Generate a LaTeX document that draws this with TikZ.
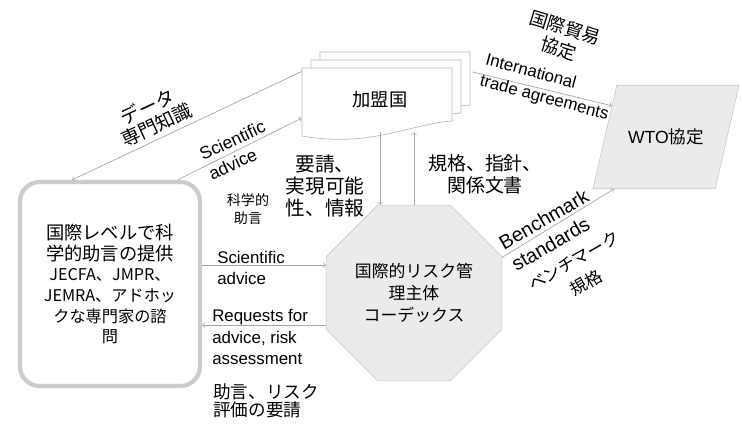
\documentclass[tikz,border=0pt]{standalone}
\usepackage{fontspec}
\setmainfont{Liberation Sans}
\newfontfamily\jp{Noto Sans CJK JP}
\usetikzlibrary{shapes.geometric}

\tikzset{
    flow/.style={->, gray!70, line width=0.5pt},
    docpage/.style={draw=gray!55, fill=white, line width=0.5pt},
    jplabel/.style={font=\jp\fontsize{13}{15.5}\selectfont, align=center, inner sep=0pt},
    enlabel/.style={font=\fontsize{12}{15.5}\selectfont, align=left, inner sep=0pt},
    expertbox/.style={draw=gray!40, line width=3pt, rounded corners=14pt, fill=white,
        minimum width=4.5cm, minimum height=5.1cm, inner sep=0pt, align=center,
        font=\jp\fontsize{11.5}{14.7}\selectfont},
    codexbox/.style={regular polygon, regular polygon sides=8, draw=gray!45, fill=gray!16,
        minimum size=4.75cm, inner sep=0pt, align=center, font=\jp\fontsize{12}{15.5}\selectfont},
    wtobox/.style={trapezium, trapezium left angle=77, trapezium right angle=103,
        draw=gray!45, fill=gray!16, inner xsep=8pt, inner ysep=31pt,
        font=\fontsize{12.5}{15}\selectfont},
}

\begin{document}
\begin{tikzpicture}[x=0.025cm, y=-0.025cm]
    \useasboundingbox (0,0) rectangle (742,428);

    % member states (stacked pages)
    \filldraw[docpage] (320,52) -- (470,52) -- (470,105) .. controls (428,108) and (388,132) .. (320,120) -- cycle;
    \filldraw[docpage] (311,60) -- (461,60) -- (461,113) .. controls (419,116) and (379,140) .. (311,128) -- cycle;
    \filldraw[docpage] (302,68) -- (452,68) -- (452,121) .. controls (410,124) and (370,148) .. (302,136) -- cycle;
    \node[jplabel, minimum width=3.9cm, minimum height=1.6cm] (member) at (380,100) {加盟国};

    % expert bodies, codex, WTO
    \node[expertbox] (expert) at (110,284) {{\fontsize{13}{14.7}\selectfont 国際レベルで科}\\{\fontsize{13}{14.7}\selectfont 学的助言の提供}\\JECFA、JMPR、\\JEMRA、アドホッ\\クな専門家の諮\\問};
    \node[codexbox] (codex) at (414,293) {国際的リスク管\\理主体\\コーデックス};
    \node[wtobox] (wto) at (666,137) {WTO{\jp 協定}};

    % connectors
    \coordinate (sciline) at (0,265);
    \coordinate (reqline) at (0,325);
    \draw[flow] (member.160) -- (expert.110);
    \draw[flow] (expert.57) -- (member.193);
    \draw[flow] (expert.east |- sciline) -- (codex.west |- sciline);
    \draw[flow] (codex.west |- reqline) -- (expert.east |- reqline);
    \draw[flow] (member.south) -- (member.south |- codex.north);
    \draw[flow] (codex.north) -- (codex.north |- member.south);
    \draw[flow] ([shift={(10pt,-3pt)}]member.north east) -- (wto.150);
    \draw[flow] (codex.22.5) -- (wto.225);

    % labels
    \node[jplabel, font=\jp\fontsize{13.5}{14.6}\selectfont, rotate=25] (datalabel) at (152,116) {データ\\専門知識};
    \node[enlabel, font=\fontsize{12.5}{15.5}\selectfont, rotate=25] (scilabel) at (237,150) {Scientific\\advice};
    \node[jplabel, font=\jp\fontsize{10}{12.8}\selectfont] (scijp) at (248,209) {科学的\\助言};
    \node[jplabel, font=\jp\fontsize{14}{15.5}\selectfont] (reqjp) at (325,186) {要請、\\実現可能\\性、情報};
    \node[jplabel, font=\jp\fontsize{13.5}{15.6}\selectfont] (stdjp) at (485,174) {規格、指針、\\関係文書};
    \node[jplabel, rotate=-17] (tradejp) at (562,38) {国際貿易\\協定};
    \node[enlabel, rotate=-15] (tradelabel) at (547,88) {International\\trade agreements};
    \node[enlabel, font=\fontsize{14}{17.7}\selectfont, rotate=30] (benchlabel) at (550,230) {Benchmark\\standards};
    \node[jplabel, font=\jp\fontsize{12}{17.7}\selectfont, rotate=30] (benchjp) at (580,272) {ベンチマーク\\規格};
    \node[enlabel, anchor=west] (advlabel) at (217,268) {Scientific\\advice};
    \node[enlabel, anchor=west, font=\fontsize{12}{15.2}\selectfont] (rqlabel) at (212,337) {Requests for\\advice, risk\\assessment};
    \node[jplabel, anchor=west, align=left, font=\jp\fontsize{12.5}{13}\selectfont] (rqjp) at (213,401) {助言、リスク\\評価の要請};
\end{tikzpicture}
\end{document}
